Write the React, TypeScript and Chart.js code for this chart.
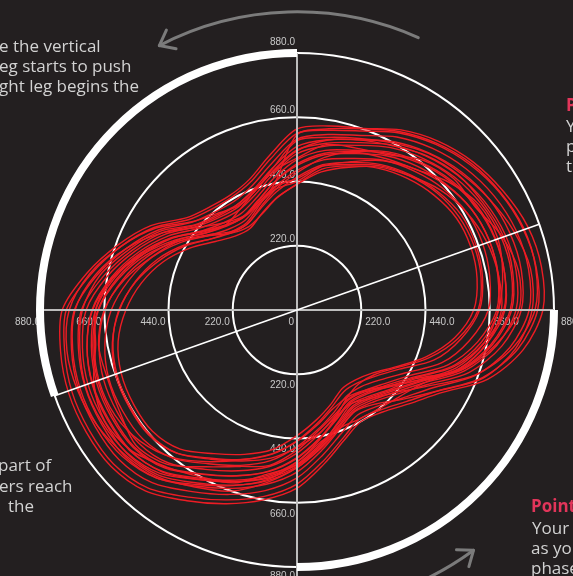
import React, { useEffect, useRef } from 'react';
import { Chart, registerables } from 'chart.js';

Chart.register(...registerables);

// crank angle categories (radar index 0 = top, clockwise)
const ANGLES = ['90°', '80°', '70°', '60°', '50°', '40°', '30°', '20°', '10°', '0°', '350°', '340°',
  '330°', '320°', '310°', '300°', '290°', '280°', '270°', '260°', '250°', '240°', '230°', '220°',
  '210°', '200°', '190°', '180°', '170°', '160°', '150°', '140°', '130°', '120°', '110°', '100°'];

const TICK_VALUES = [0, 220, 440, 660, 880];
const TICK_LABELS = ['0', '220.0', '440.0', '660.0', '880.0'];

// force traces, one array per pedal revolution
const loop01 = [431, 490, 525, 560, 588, 612, 630, 633, 626, 605, 548, 470, 390, 336, 312, 310, 342, 382, 430, 485, 526, 568, 622, 646, 646, 640, 622, 586, 540, 486, 424, 365, 330, 322, 352, 392];
const loop02 = [455, 505, 538, 575, 604, 630, 650, 652, 645, 625, 570, 500, 405, 352, 325, 322, 352, 395, 448, 502, 545, 586, 640, 664, 664, 660, 642, 608, 562, 508, 445, 380, 346, 340, 368, 410];
const loop03 = [478, 522, 552, 592, 622, 650, 670, 675, 670, 655, 600, 528, 430, 372, 342, 340, 372, 415, 468, 524, 566, 608, 662, 688, 690, 686, 668, 636, 585, 528, 462, 396, 362, 355, 384, 428];
const loop04 = [495, 540, 570, 610, 642, 668, 690, 700, 698, 684, 628, 550, 448, 392, 360, 352, 385, 432, 490, 544, 586, 630, 684, 708, 708, 704, 688, 658, 605, 542, 476, 410, 375, 368, 397, 444];
const loop05 = [515, 555, 582, 625, 660, 690, 712, 722, 722, 708, 650, 570, 465, 408, 375, 366, 398, 448, 508, 562, 604, 648, 702, 728, 728, 724, 710, 682, 625, 560, 492, 422, 390, 382, 408, 458];
const loop06 = [535, 570, 600, 642, 676, 706, 728, 742, 745, 730, 675, 595, 486, 425, 390, 380, 414, 465, 528, 580, 626, 670, 722, 746, 746, 744, 730, 702, 645, 578, 508, 436, 404, 396, 420, 472];
const loop07 = [548, 580, 610, 652, 688, 718, 742, 758, 762, 750, 695, 610, 500, 438, 402, 392, 424, 476, 540, 594, 638, 684, 738, 762, 762, 760, 746, 722, 660, 590, 520, 446, 414, 406, 430, 482];
const loop08 = [560, 592, 620, 665, 702, 735, 760, 775, 780, 768, 712, 626, 512, 448, 410, 398, 432, 488, 555, 606, 650, 696, 750, 774, 775, 772, 760, 738, 672, 600, 530, 452, 420, 414, 438, 492];
const loop09 = [585, 610, 636, 684, 722, 754, 780, 798, 805, 795, 740, 652, 534, 470, 430, 415, 448, 505, 575, 628, 672, 718, 772, 796, 798, 796, 784, 762, 694, 620, 548, 468, 438, 430, 452, 508];
const loop10 = [605, 625, 652, 700, 740, 774, 802, 822, 832, 824, 768, 676, 555, 488, 446, 430, 465, 524, 596, 648, 692, 740, 795, 820, 822, 820, 808, 790, 715, 640, 565, 482, 452, 446, 466, 525];
const loop11 = [620, 640, 662, 712, 754, 788, 815, 840, 850, 842, 786, 694, 568, 500, 456, 440, 474, 535, 610, 660, 706, 754, 808, 832, 834, 832, 822, 804, 730, 652, 578, 492, 462, 455, 476, 538];
const loop12 = [440, 500, 540, 590, 630, 665, 690, 700, 700, 690, 640, 565, 460, 400, 370, 362, 395, 445, 505, 560, 604, 650, 706, 732, 734, 730, 715, 690, 634, 566, 494, 416, 378, 366, 385, 420];
const loop13 = [500, 545, 578, 620, 655, 685, 708, 720, 722, 712, 660, 590, 500, 460, 440, 430, 430, 460, 520, 575, 620, 665, 720, 748, 750, 746, 730, 700, 640, 570, 496, 420, 380, 368, 394, 445];
const loop14 = [450, 500, 530, 570, 600, 625, 640, 645, 640, 620, 560, 480, 395, 345, 330, 345, 390, 450, 520, 590, 640, 690, 750, 780, 790, 790, 780, 760, 700, 620, 530, 440, 390, 370, 390, 430];
const loop15 = [600, 630, 660, 705, 745, 780, 805, 825, 830, 815, 750, 650, 520, 440, 395, 370, 390, 430, 470, 515, 550, 590, 640, 660, 660, 655, 640, 610, 560, 500, 440, 380, 350, 345, 380, 440];
const loop16 = [520, 575, 590, 615, 670, 700, 705, 745, 770, 760, 690, 600, 470, 420, 385, 372, 410, 470, 530, 570, 630, 660, 700, 745, 760, 740, 700, 690, 640, 560, 480, 410, 380, 395, 430, 480];
const loop17 = [470, 530, 575, 600, 630, 680, 720, 730, 715, 690, 650, 580, 480, 410, 365, 355, 380, 420, 480, 540, 570, 620, 690, 720, 700, 690, 690, 660, 600, 530, 470, 400, 350, 340, 372, 420];
const loop18 = [580, 600, 625, 660, 700, 730, 760, 790, 812, 805, 760, 680, 555, 475, 420, 400, 430, 480, 540, 600, 660, 700, 745, 770, 790, 800, 800, 780, 720, 640, 560, 470, 430, 410, 430, 490];
const loop19 = [430, 480, 520, 565, 600, 640, 670, 690, 700, 700, 660, 590, 480, 405, 360, 345, 360, 400, 450, 500, 545, 600, 660, 700, 720, 720, 705, 680, 620, 550, 470, 395, 345, 330, 350, 390];
const loop20 = [545, 590, 620, 650, 690, 720, 735, 750, 750, 735, 680, 600, 490, 430, 395, 385, 420, 470, 535, 585, 625, 670, 730, 760, 770, 770, 755, 735, 685, 610, 540, 455, 425, 415, 435, 480];

const LOOPS = [loop01, loop02, loop03, loop04, loop05, loop06, loop07, loop08, loop09, loop10,
  loop11, loop12, loop13, loop14, loop15, loop16, loop17, loop18, loop19, loop20];

const BG = '#231f20';
const RED = '#ed1c24';
const NOTE_GREY = '#d2d2d2';
const NOTE_RED = '#e2355a';

type Note = { text: string; x: number; baseline: number; color: string; bold?: boolean };
const NOTES: Note[] = [
  { text: 'e the vertical', x: -1, baseline: 53, color: NOTE_GREY },
  { text: 'eg starts to push', x: -1, baseline: 73, color: NOTE_GREY },
  { text: 'ght leg begins the', x: -1, baseline: 93, color: NOTE_GREY },
  { text: 'P', x: 566, baseline: 112, color: NOTE_RED, bold: true },
  { text: 'Y', x: 566, baseline: 133, color: NOTE_GREY },
  { text: 'p', x: 566, baseline: 153, color: NOTE_GREY },
  { text: 't', x: 566, baseline: 173, color: NOTE_GREY },
  { text: 'part of', x: -2, baseline: 472, color: NOTE_GREY },
  { text: 'ers reach', x: -1, baseline: 493, color: NOTE_GREY },
  { text: 'the', x: 8, baseline: 513, color: NOTE_GREY },
  { text: 'Point', x: 531, baseline: 513, color: NOTE_RED, bold: true },
  { text: 'Your', x: 532, baseline: 535, color: NOTE_GREY },
  { text: 'as yo', x: 531, baseline: 555, color: NOTE_GREY },
  { text: 'phase', x: 531, baseline: 575, color: NOTE_GREY },
];

const rad = (a: number) => (a * Math.PI) / 180;

function drawArrow(ctx: CanvasRenderingContext2D, cx: number, cy: number, r: number, a0: number, a1: number) {
  ctx.beginPath();
  ctx.arc(cx, cy, r, -rad(a0), -rad(a1), a1 > a0);
  ctx.stroke();
  const tx = cx + r * Math.cos(rad(a1));
  const ty = cy - r * Math.sin(rad(a1));
  const back = Math.atan2(Math.cos(rad(a1)), Math.sin(rad(a1)));
  const len = 17;
  ctx.beginPath();
  ctx.moveTo(tx + len * Math.cos(back - rad(38)), ty + len * Math.sin(back - rad(38)));
  ctx.lineTo(tx, ty);
  ctx.lineTo(tx + len * Math.cos(back + rad(38)), ty + len * Math.sin(back + rad(38)));
  ctx.stroke();
}

const overlayPlugin = {
  id: 'pedalOverlay',
  beforeDatasetsDraw(chart: any) {
    const s = chart.scales.r;
    const ctx: CanvasRenderingContext2D = chart.ctx;
    const cx = s.xCenter;
    const cy = s.yCenter;
    const maxV = TICK_VALUES[TICK_VALUES.length - 1];
    ctx.save();
    ctx.font = '10px "Liberation Sans", Arial, sans-serif';
    ctx.fillStyle = '#c8c8c8';
    TICK_VALUES.forEach((v, k) => {
      const lbl = TICK_LABELS[k];
      const d = s.getDistanceFromCenterForValue(v);
      if (v === 0) {
        ctx.textAlign = 'right';
        ctx.textBaseline = 'top';
        ctx.fillText(lbl, cx - 3, cy + 7);
        return;
      }
      const outer = v === maxV;
      ctx.textAlign = 'right';
      ctx.textBaseline = 'alphabetic';
      ctx.fillText(lbl, cx - 2, cy - d - (outer ? 8 : 4));
      ctx.textBaseline = 'top';
      ctx.fillText(lbl, cx - 2, cy + d + (outer ? 4 : 6));
      ctx.fillText(lbl, cx - d - (outer ? 0 : 3), cy + 7);
      ctx.textAlign = 'left';
      ctx.fillText(lbl, cx + d + (outer ? 7 : 4), cy + 7);
    });
    ctx.restore();
  },
  afterDatasetsDraw(chart: any) {
    const s = chart.scales.r;
    const ctx: CanvasRenderingContext2D = chart.ctx;
    const cx = s.xCenter;
    const cy = s.yCenter;
    const R = s.getDistanceFromCenterForValue(TICK_VALUES[TICK_VALUES.length - 1]);
    ctx.save();
    // crosshair
    ctx.strokeStyle = '#bdbdbd';
    ctx.lineWidth = 2;
    ctx.beginPath();
    ctx.moveTo(cx - R, cy);
    ctx.lineTo(cx + R, cy);
    ctx.moveTo(cx, cy - R);
    ctx.lineTo(cx, cy + R + 12);
    ctx.stroke();
    // diagonal dead-centre line
    const a = rad(19.5);
    ctx.strokeStyle = '#ffffff';
    ctx.lineWidth = 1.6;
    ctx.beginPath();
    ctx.moveTo(cx + R * Math.cos(a), cy - R * Math.sin(a));
    ctx.lineTo(cx - R * Math.cos(a), cy + R * Math.sin(a));
    ctx.stroke();
    // thick sectors on outer ring
    ctx.lineWidth = 8;
    ctx.lineCap = 'butt';
    ctx.beginPath();
    ctx.arc(cx, cy, R, -Math.PI / 2, -rad(199.5), true);
    ctx.stroke();
    ctx.beginPath();
    ctx.arc(cx, cy, R, 0, Math.PI / 2, false);
    ctx.stroke();
    // rotation arrows
    ctx.strokeStyle = '#7b7b7b';
    ctx.lineWidth = 3;
    ctx.lineCap = 'round';
    ctx.lineJoin = 'round';
    drawArrow(ctx, cx, cy, R * 1.16, 66, 117.5);
    drawArrow(ctx, cx, cy, R * 1.16, -110, -53.7);
    ctx.restore();
  },
};

export default function App() {
  const canvasRef = useRef<HTMLCanvasElement | null>(null);

  useEffect(() => {
    document.body.style.margin = '0';
    document.body.style.background = BG;
    const canvas = canvasRef.current;
    if (!canvas) return;
    const chart = new Chart(canvas, {
      type: 'radar',
      data: {
        labels: ANGLES,
        datasets: LOOPS.map((d, i) => ({
          label: `rev ${i + 1}`,
          data: d,
          borderColor: RED,
          backgroundColor: 'transparent',
          borderWidth: 1.4,
          fill: false,
          pointRadius: 0,
          tension: 0.3,
        })),
      },
      options: {
        responsive: false,
        animation: false,
        layout: { padding: { left: 40, right: 19, top: 53, bottom: 9 } },
        plugins: { legend: { display: false }, tooltip: { enabled: false } },
        scales: {
          r: {
            min: 0,
            max: 880,
            ticks: { display: false, stepSize: 220 },
            grid: { circular: true, color: '#ffffff', lineWidth: 2 },
            angleLines: { display: false },
            pointLabels: { display: false },
          },
        },
      },
      plugins: [overlayPlugin],
    } as any);
    return () => chart.destroy();
  }, []);

  return (
    <div style={{ position: 'fixed', left: 0, top: 0, width: 573, height: 576, overflow: 'hidden', background: BG }}>
      <canvas ref={canvasRef} width={573} height={576} style={{ position: 'absolute', left: 0, top: 0 }} />
      {NOTES.map((n, i) => (
        <div
          key={i}
          style={{
            position: 'absolute',
            left: n.x,
            top: n.baseline - 16.6,
            font: `${n.bold ? 700 : 400} 17px "Open Sans", Lato, sans-serif`,
            lineHeight: '20px',
            color: n.color,
            whiteSpace: 'pre',
          }}
        >
          {n.text}
        </div>
      ))}
    </div>
  );
}
